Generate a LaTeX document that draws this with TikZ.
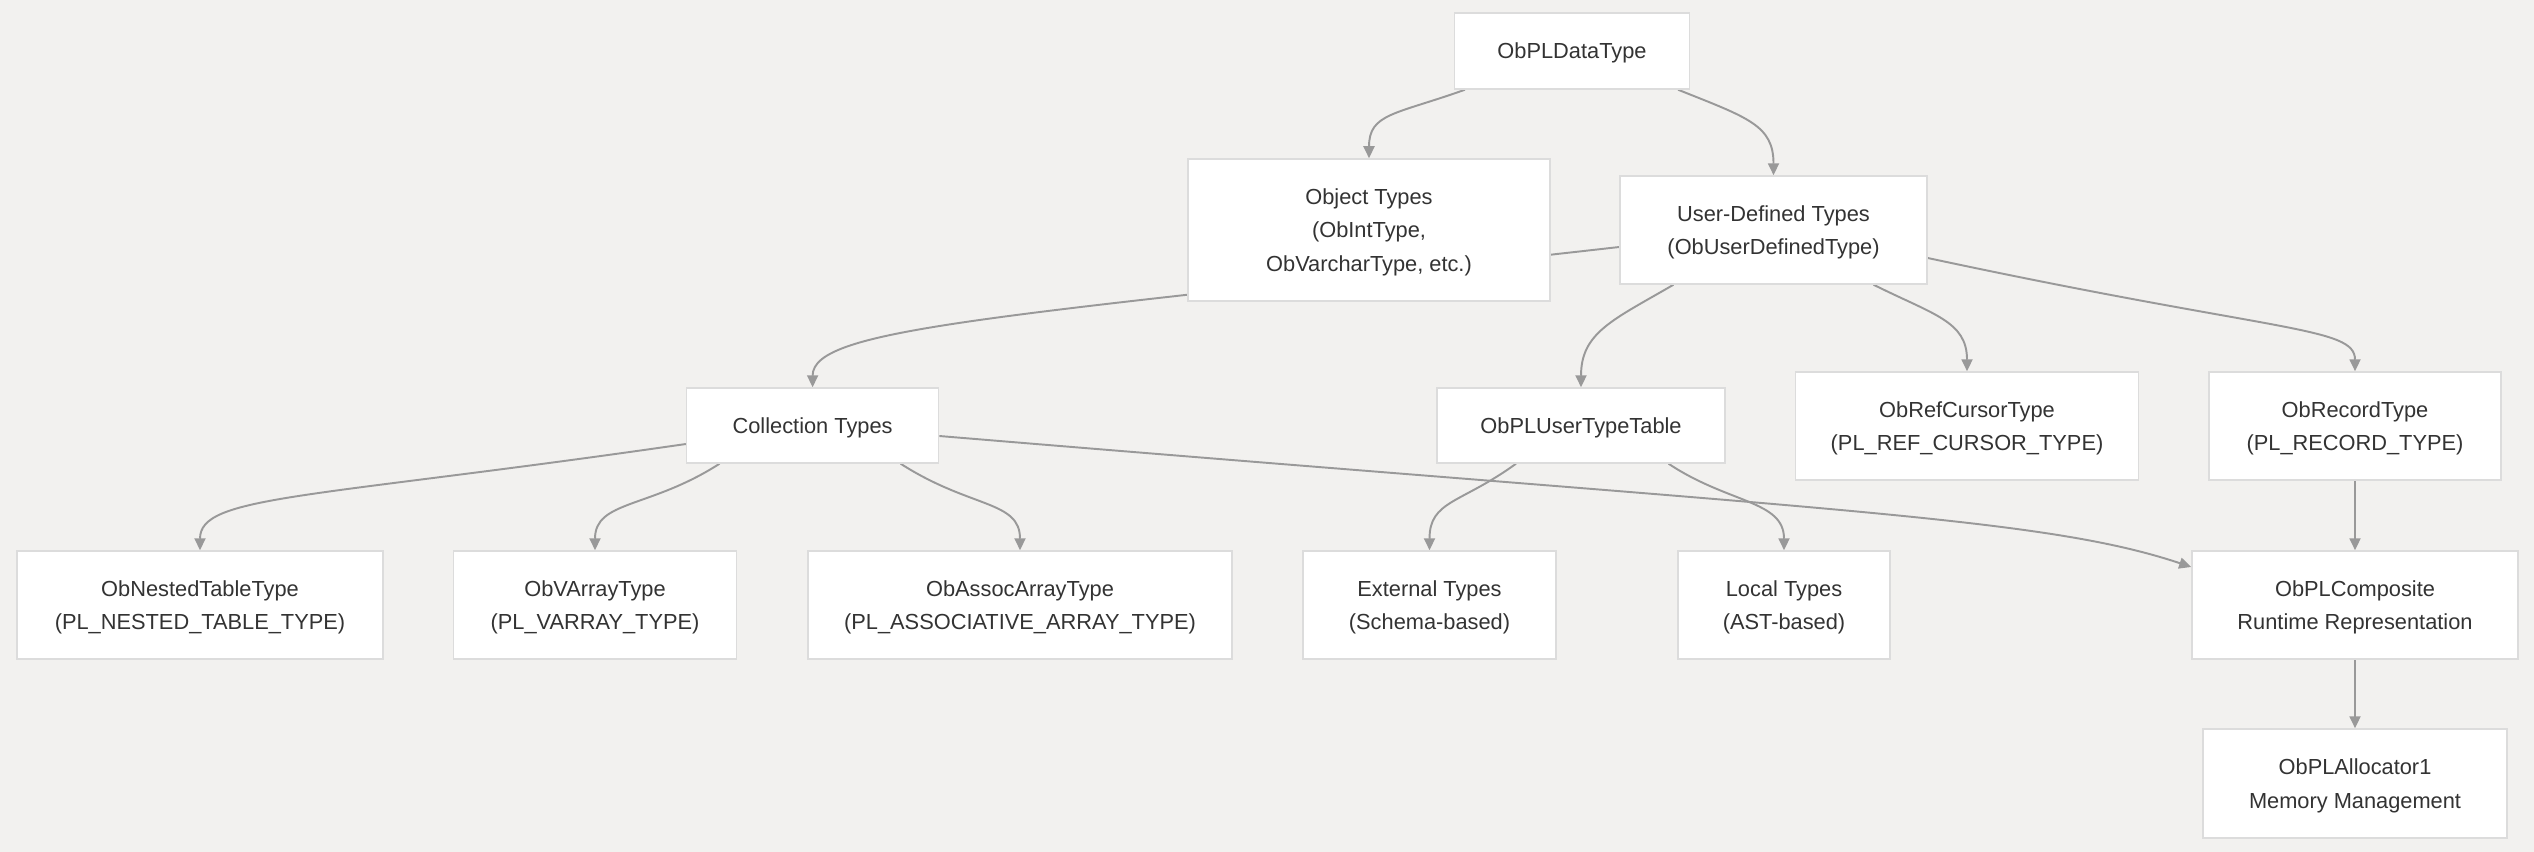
\documentclass[tikz,border=0pt]{standalone}
\usepackage{fontspec}
\setmainfont{Liberation Sans}
\usetikzlibrary{arrows.meta,backgrounds}
\definecolor{mmdBack}{HTML}{F2F1EF}
\definecolor{mmdLine}{HTML}{999999}
\definecolor{mmdBorder}{HTML}{DCDCDC}
\definecolor{mmdText}{HTML}{333333}

\begin{document}
\begin{tikzpicture}[x=0.01cm,y=0.01cm,
    every node/.style={font=\fontsize{6.2}{9.6}\selectfont, text=mmdText},
    box/.style={draw=mmdBorder, line width=0.4pt, fill=white, align=center, inner sep=0pt, text depth=0pt, minimum height=1.08cm},
    link/.style={draw=mmdLine, line width=0.55pt, -{Triangle[length=1.2mm,width=1.1mm]}}]
  \useasboundingbox (0,0) rectangle (2534,-852);
  % top levels
  \node[box, minimum width=2.35cm, minimum height=0.76cm] (dtype) at (1572,-51) {ObPLDataType};
  \node[box, minimum width=3.62cm, minimum height=1.42cm] (objt) at (1369,-230) {Object Types\\(ObIntType,\\ObVarcharType, etc.)};
  \node[box, minimum width=3.07cm] (udt) at (1773.5,-230) {User-Defined Types\\(ObUserDefinedType)};
  \node[box, minimum width=2.52cm, minimum height=0.75cm] (coll) at (812.6,-425.5) {Collection Types};
  \node[box, minimum width=2.88cm, minimum height=0.75cm] (utt) at (1581,-425.5) {ObPLUserTypeTable};
  \node[box, minimum width=3.43cm] (refc) at (1967,-426) {ObRefCursorType\\(PL\_REF\_CURSOR\_TYPE)};
  \node[box, minimum width=2.92cm] (rec) at (2355,-426) {ObRecordType\\(PL\_RECORD\_TYPE)};
  % leaves
  \node[box, minimum width=3.66cm] (nested) at (200,-605) {ObNestedTableType\\(PL\_NESTED\_TABLE\_TYPE)};
  \node[box, minimum width=2.83cm] (varr) at (595,-605) {ObVArrayType\\(PL\_VARRAY\_TYPE)};
  \node[box, minimum width=4.24cm] (assoc) at (1020,-605) {ObAssocArrayType\\(PL\_ASSOCIATIVE\_ARRAY\_TYPE)};
  \node[box, minimum width=2.53cm] (ext) at (1429.5,-605) {External Types\\(Schema-based)};
  \node[box, minimum width=2.12cm] (local) at (1784,-605) {Local Types\\(AST-based)};
  \node[box, minimum width=3.26cm] (comp) at (2355,-605) {ObPLComposite\\Runtime Representation};
  \node[box, minimum width=3.04cm, minimum height=1.09cm] (alloc) at (2355,-783.5) {ObPLAllocator1\\Memory Management};

  \begin{scope}[on background layer]
    \fill[mmdBack] (0,0) rectangle (2534,-852);
    \draw[link] ([xshift=-1.07cm]dtype.south) .. controls +(-70,-25) and +(0,45) .. (objt.north);
    \draw[link] ([xshift=1.06cm]dtype.south) .. controls +(70,-28) and +(0,50) .. (udt.north);
    \draw[link] ([yshift=-0.17cm]udt.west) .. controls +(-620,-70) and +(0,60) .. (coll.north);
    \draw[link] ([xshift=-1cm]udt.south) .. controls +(-60,-35) and +(0,55) .. (utt.north);
    \draw[link] ([xshift=1cm]udt.south) .. controls +(60,-30) and +(0,50) .. (refc.north);
    \draw[link] ([yshift=-0.28cm]udt.east) .. controls +(350,-75) and +(0,45) .. (rec.north);
    \draw[link] ([yshift=-0.185cm]coll.west) .. controls +(-380,-55) and +(0,55) .. (nested.north);
    \draw[link] ([xshift=-0.93cm]coll.south) .. controls +(-70,-45) and +(0,50) .. (varr.north);
    \draw[link] ([xshift=0.88cm]coll.south) .. controls +(70,-45) and +(0,50) .. (assoc.north);
    \draw[link] ([yshift=-0.105cm]coll.east) .. controls +(900,-75) and +(-150,50) .. ([yshift=0.38cm]comp.west);
    \draw[link] ([xshift=-0.65cm]utt.south) .. controls +(-55,-40) and +(0,50) .. (ext.north);
    \draw[link] ([xshift=0.875cm]utt.south) .. controls +(60,-40) and +(0,50) .. (local.north);
    \draw[link] (rec) -- (comp);
    \draw[link] (comp) -- (alloc);
  \end{scope}
\end{tikzpicture}
\end{document}
